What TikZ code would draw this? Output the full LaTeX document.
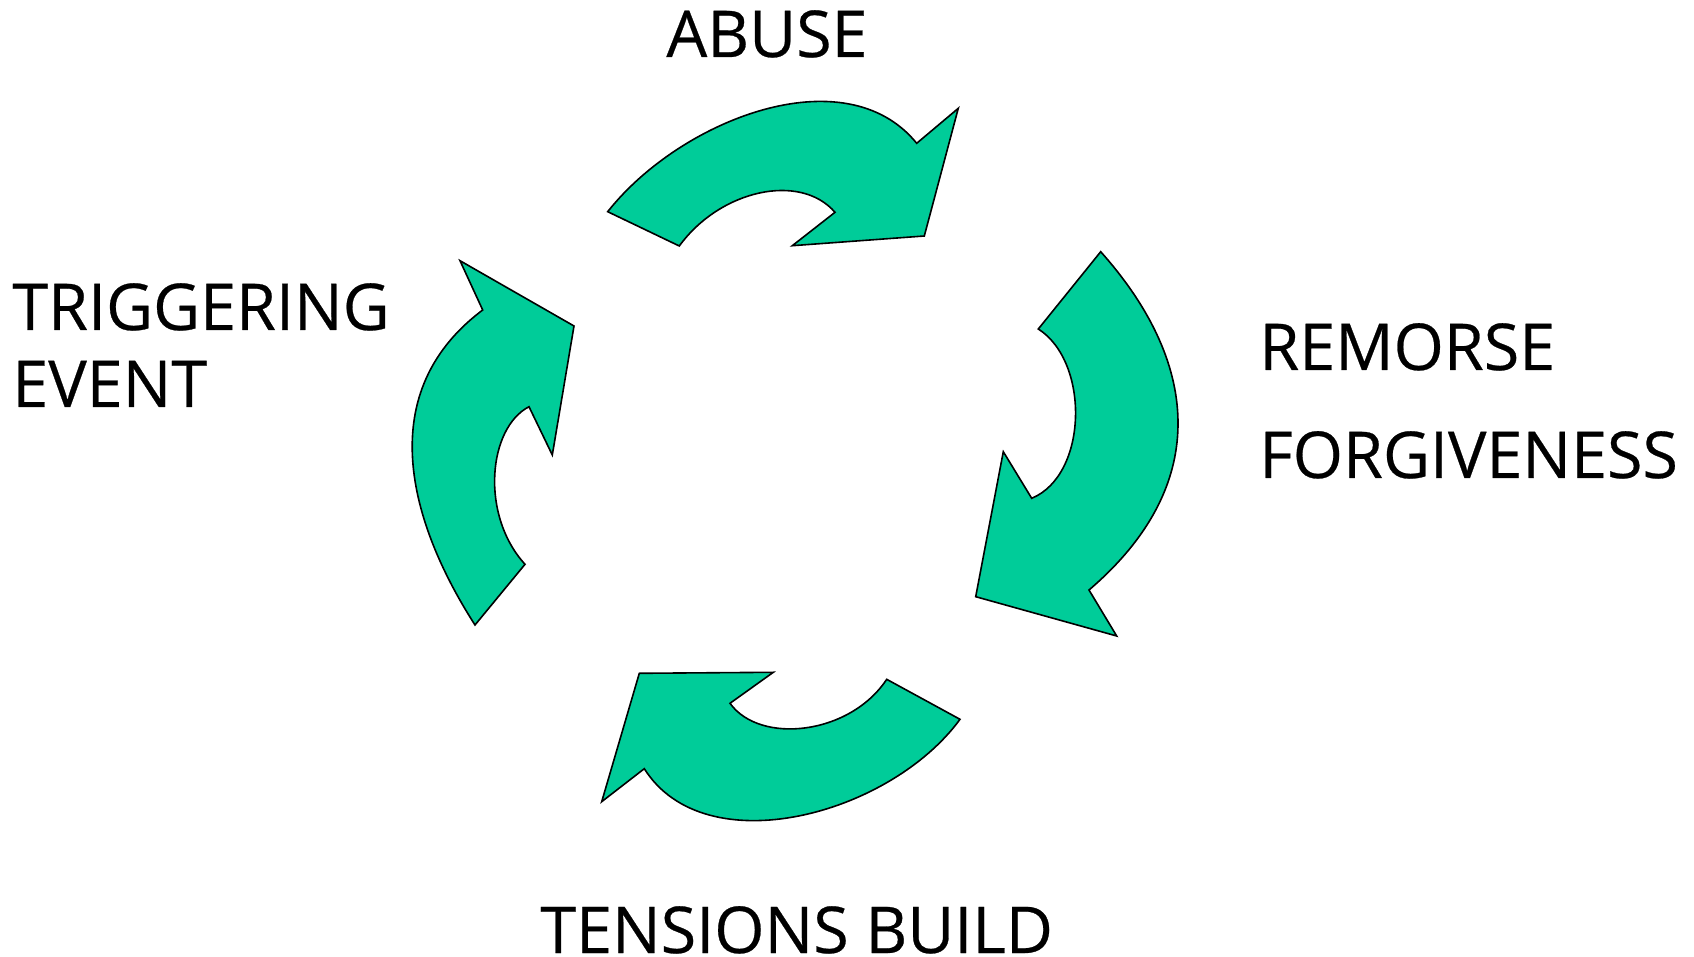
\documentclass[tikz,border=0pt]{standalone}
\usepackage{fontspec}
\setmainfont{Open Sans}[FakeBold=0.4]
\begin{document}
\begin{tikzpicture}[x=0.5pt,y=-0.5pt,
  cyclearrow/.style={fill=cyclegreen,draw=black,line width=0.8pt,line join=miter},
  stage/.style={anchor=base west,inner sep=0pt,font=\fontsize{32.3}{38}\selectfont}]
\definecolor{cyclegreen}{RGB}{0,204,153}
\useasboundingbox (0,0) rectangle (1694,957);

% upper arrow (abuse)
\path[cyclearrow] (607.7,211.7) .. controls (680,120) and (845,55) .. (916.7,143.3)
  -- (958.3,108.3) -- (924.3,236) -- (792.3,245.7) -- (835,212.3)
  .. controls (800,172) and (720,190) .. (679.3,246) -- cycle;

% right arrow (remorse)
\path[cyclearrow] (1100.7,251.7) .. controls (1195.6,358) and (1215.8,481.5) .. (1089,590)
  -- (1116.7,636) -- (975.7,596.7) -- (1003.3,451.7) -- (1031.7,498.3)
  .. controls (1088,475) and (1090,362) .. (1038.3,329) -- cycle;

% lower arrow (tensions)
\path[cyclearrow] (639.3,673.3) -- (773.3,672.3) -- (730,703.3)
  .. controls (760,745) and (850,735) .. (886.7,679.3) -- (960,719.3)
  .. controls (890,815) and (705,865) .. (644.3,768.7) -- (601.7,801.7) -- cycle;

% left arrow (trigger)
\path[cyclearrow] (460,260.7) -- (482.7,310)
  .. controls (367.2,396.6) and (415,531.6) .. (475,625) -- (525,564.3)
  .. controls (480,515) and (488,428) .. (529,406.7) -- (552.3,455) -- (574,326) -- cycle;

% stage labels
\node[stage] (abuse) at (666,57) {ABUSE};
\node[stage] (remorse) at (1259,370) {REMORSE};
\node[stage] (forgive) at (1259,478) {FORGIVENESS};
\node[stage] (tension) at (540,953) {TENSIONS BUILD};
\node[stage] (trigger) at (12,330) {TRIGGERING};
\node[stage] (event) at (12,407) {EVENT};
\end{tikzpicture}
\end{document}
